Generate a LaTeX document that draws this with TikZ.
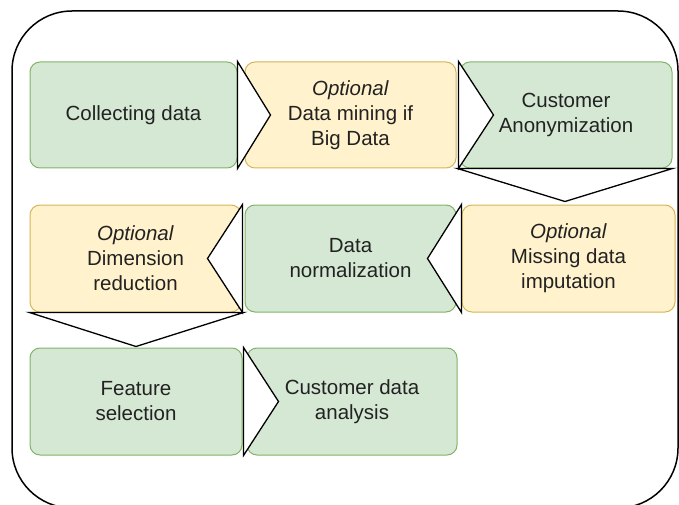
\documentclass[tikz,border=0pt]{standalone}
\usepackage{fontspec}
\setmainfont{Liberation Sans}
\usetikzlibrary{calc}
\definecolor{gfill}{HTML}{D5E8D4}
\definecolor{gdraw}{HTML}{82B366}
\definecolor{yfill}{HTML}{FFF2CC}
\definecolor{ydraw}{HTML}{D6B656}
\definecolor{txt}{HTML}{222222}
\tikzset{
  box/.style={rectangle, rounded corners=10pt, line width=1pt, align=center, text=txt,
    font=\fontsize{20.5}{25}\selectfont, inner sep=0pt},
  gbox/.style={box, fill=gfill, draw=gdraw},
  ybox/.style={box, fill=yfill, draw=ydraw},
  tri/.style={fill=white, draw=black, line width=1.3pt, line join=miter},
  frame/.style={draw=black, line width=1.5pt, rounded corners=60pt}
}
\begin{document}
\begin{tikzpicture}[x=1pt,y=-1pt]
\useasboundingbox (0,0) rectangle (679,505);
\draw[frame] (12,11) rectangle (678,508);
% row 1
\node[gbox, minimum width=207pt, minimum height=106pt] (a) at (133.5,115) {Collecting data};
\node[ybox, minimum width=211pt, minimum height=106pt] (b) at (350.5,115) {\textit{Optional}\\Data mining if\\Big Data};
\node[gbox, minimum width=212pt, minimum height=106pt] (c) at (566,115) {Customer\\Anonymization};
% row 2
\node[ybox, minimum width=211pt, minimum height=107pt] (d) at (135.5,258.5) {\textit{Optional}\\Dimension\\reduction};
\node[gbox, minimum width=211pt, minimum height=107pt] (e) at (350.5,258.5) {Data\\normalization};
\node[ybox, minimum width=213pt, minimum height=107pt] (f) at (568.5,258.5) {\textit{Optional}\\Missing data\\imputation};
% row 3
\node[gbox, minimum width=212pt, minimum height=107pt] (g) at (136,401.5) {Feature\\selection};
\node[gbox, minimum width=210pt, minimum height=107pt] (h) at (352,401.5) {Customer data\\analysis};
% step arrows
\draw[tri] (a.north east) -- ($(a.east)+(33,0)$) -- (a.south east) -- cycle;
\draw[tri] ($(b.north east)+(2,0)$) -- ($(b.east)+(37,0)$) -- ($(b.south east)+(2,0)$) -- cycle;
\draw[tri] ($(c.south west)+(-2,0)$) -- (c.south east) -- ($(c.south)+(-1,33)$) -- cycle;
\draw[tri] (f.north west) -- ($(f.west)+(-34,0)$) -- (f.south west) -- cycle;
\draw[tri] ($(e.north west)+(-2,0)$) -- ($(e.west)+(-37,0)$) -- ($(e.south west)+(-2,0)$) -- cycle;
\draw[tri] (d.south west) -- ($(d.south east)+(2,0)$) -- ($(d.south)+(0.5,34)$) -- cycle;
\draw[tri] ($(h.north west)+(-3,0)$) -- ($(h.west)+(32,0)$) -- ($(h.south west)+(-3,0)$) -- cycle;
\end{tikzpicture}
\end{document}
